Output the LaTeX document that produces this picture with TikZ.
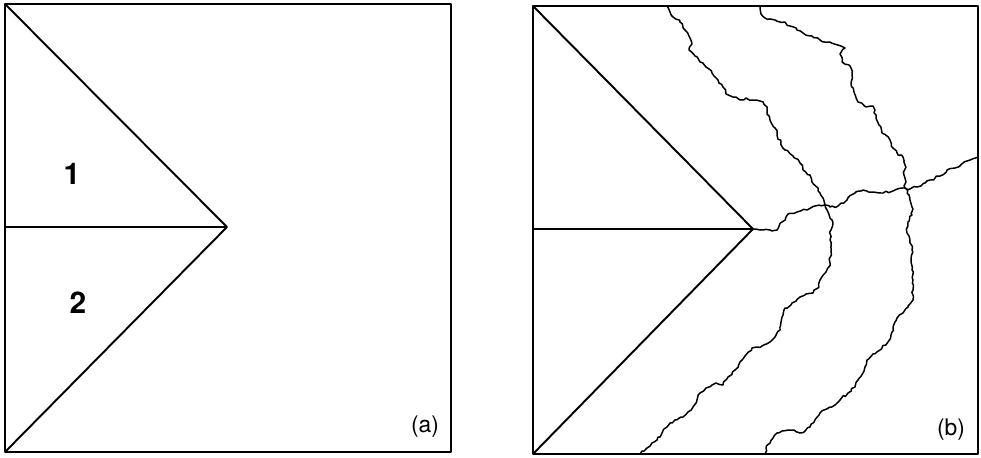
\documentclass[tikz,border=0pt]{standalone}
\usepackage{fontspec}
\setmainfont{TeX Gyre Heros}
\usetikzlibrary{decorations.pathmorphing}
\tikzset{
  outline/.style={line width=1.1pt, line join=round},
  boundary/.style={line width=0.85pt, line join=round,
    decorate, decoration={random steps, segment length=1.8pt, amplitude=0.75pt}},
  region/.style={font=\fontsize{17}{17}\selectfont\bfseries},
  panel/.style={font=\fontsize{13}{13}\selectfont}
}
\begin{document}
\begin{tikzpicture}[x=0.02cm,y=-0.02cm]
\pgfmathsetseed{7}
\useasboundingbox (0,0) rectangle (981,457);

% panel (a)
\coordinate (atl) at (5,4);
\coordinate (abr) at (451,452);
\coordinate (aml) at (5,227);
\coordinate (abl) at (5,452);
\coordinate (atip) at (227,227);
\draw[outline] (atl) rectangle (abr);
\draw[outline] (atl) -- (atip) -- (abl);
\draw[outline] (aml) -- (atip);
\node[region] (one) at (72,174) {1};
\node[region] (two) at (78,303) {2};
\node[panel] (lbla) at (425,427) {(a)};

% panel (b)
\coordinate (btl) at (533,6);
\coordinate (bbr) at (978,454);
\coordinate (bml) at (533,229);
\coordinate (bbl) at (533,454);
\coordinate (btip) at (753,229);
\coordinate (jl) at (825,205);
\coordinate (jr) at (905,188);
\draw[outline] (btl) rectangle (bbr);
\draw[outline] (btl) -- (btip) -- (bbl);
\draw[outline] (bml) -- (btip);

\draw[boundary] (667,6) -- (670,12) -- (673,17) -- (680,22) -- (685,30) -- (690,38)
  -- (692,44) -- (689,50) -- (695,56) -- (700,62) -- (706,67) -- (712,73) -- (718,80)
  -- (723,87) -- (726,94) -- (733,97) -- (740,100) -- (746,98) -- (753,100) -- (760,101)
  -- (767,107) -- (767,114) -- (770,120) -- (775,128) -- (777,135) -- (781,142)
  -- (785,150) -- (793,156) -- (800,163) -- (803,170) -- (810,175) -- (812,182)
  -- (818,188) -- (820,193) -- (823,198) -- (jl);
\draw[boundary] (760,7) -- (761,14) -- (765,18) -- (775,20) -- (785,22) -- (790,26)
  -- (797,30) -- (803,33) -- (812,36) -- (820,40) -- (830,42) -- (845,48) -- (840,54)
  -- (842,62) -- (850,66) -- (852,75) -- (851,83) -- (854,92) -- (858,102) -- (866,107)
  -- (873,106) -- (876,115) -- (879,125) -- (882,133) -- (890,140) -- (893,148)
  -- (898,155) -- (903,157) -- (905,165) -- (904,175) -- (906,182) -- (jr);
\draw[boundary] (btip) -- (760,230) -- (770,230) -- (777,230) -- (782,222) -- (788,214)
  -- (797,212) -- (807,210) -- (815,206) -- (jl) -- (830,207) -- (838,206) -- (847,200)
  -- (855,193) -- (863,190) -- (872,192) -- (883,193) -- (893,191) -- (jr)
  -- (910,189) -- (917,187) -- (925,183) -- (930,180) -- (940,176) -- (947,170)
  -- (955,168) -- (963,163) -- (970,160) -- (978,157);
\draw[boundary] (jl) -- (828,212) -- (832,220) -- (831,230) -- (830,240) -- (831,252)
  -- (830,263) -- (826,272) -- (820,280) -- (818,288) -- (813,293) -- (806,294)
  -- (800,297) -- (792,303) -- (785,308) -- (783,315) -- (781,322) -- (780,330)
  -- (775,337) -- (770,342) -- (762,346) -- (752,348) -- (745,356) -- (740,362)
  -- (735,370) -- (728,377) -- (723,385) -- (716,383) -- (712,385) -- (706,388)
  -- (700,393) -- (697,400) -- (693,407) -- (688,412) -- (683,417) -- (675,420)
  -- (667,427) -- (662,433) -- (657,440) -- (652,443) -- (647,448) -- (642,451)
  -- (640,454);
\draw[boundary] (jr) -- (909,195) -- (910,200) -- (912,207) -- (912,215) -- (908,222)
  -- (907,233) -- (910,240) -- (912,250) -- (911,260) -- (912,270) -- (913,280)
  -- (913,290) -- (913,300) -- (908,307) -- (903,313) -- (897,318) -- (893,327)
  -- (891,335) -- (888,342) -- (880,350) -- (873,354) -- (867,360) -- (865,367)
  -- (863,373) -- (858,380) -- (855,387) -- (848,393) -- (840,400) -- (835,405)
  -- (830,407) -- (824,410) -- (820,413) -- (815,420) -- (810,427) -- (805,431)
  -- (800,433) -- (794,430) -- (788,430) -- (782,431) -- (777,433) -- (773,438)
  -- (770,443) -- (766,448) -- (765,454);
\node[panel] (lblb) at (951,430) {(b)};
\end{tikzpicture}
\end{document}
